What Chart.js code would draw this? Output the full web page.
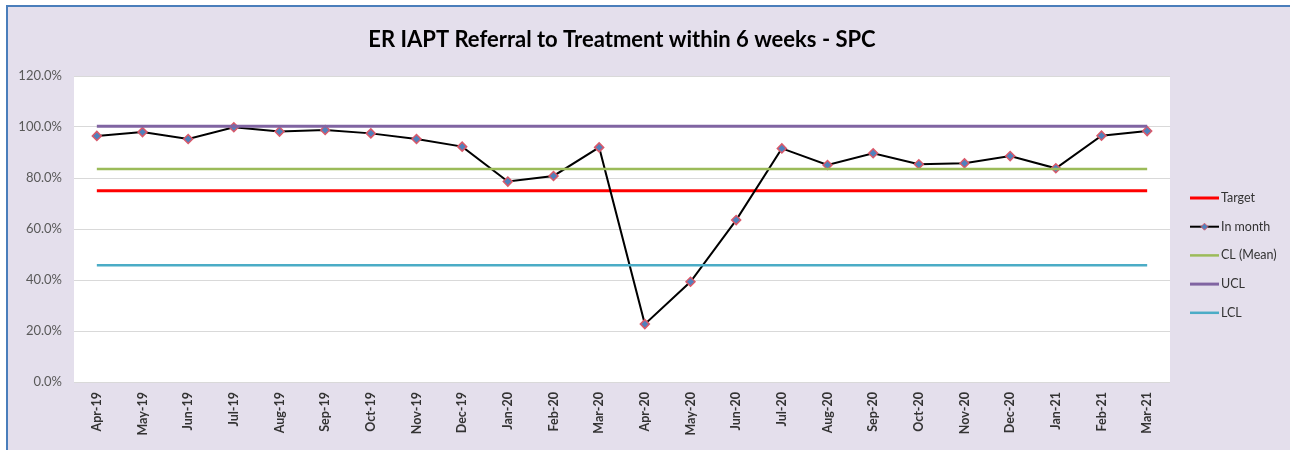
<!DOCTYPE html>
<html>
<head>
<meta charset="utf-8">
<script src="https://cdn.jsdelivr.net/npm/chart.js@4.4.0/dist/chart.umd.min.js"></script>
<style>
  html, body { margin: 0; padding: 0; background: #ffffff; width: 1290px; height: 450px; overflow: hidden; }
  #frame { position: absolute; left: 6px; top: 5px; width: 1290px; height: 450px;
           border-left: 2px solid #4A7EBB; border-top: 2px solid #4A7EBB; background: #E4DFEC; }
  #c { position: absolute; left: 0; top: 0; }
</style>
</head>
<body>
<div id="frame"><canvas id="c" width="1282" height="443"></canvas></div>
<script>
const categories = ['Apr-19','May-19','Jun-19','Jul-19','Aug-19','Sep-19','Oct-19','Nov-19','Dec-19',
  'Jan-20','Feb-20','Mar-20','Apr-20','May-20','Jun-20','Jul-20','Aug-20','Sep-20','Oct-20','Nov-20','Dec-20',
  'Jan-21','Feb-21','Mar-21'];
const inMonth = [96.5, 98.0, 95.3, 99.9, 98.2, 98.8, 97.5, 95.3, 92.3, 78.6, 80.8, 92.0,
  22.7, 39.3, 63.5, 91.6, 85.1, 89.7, 85.4, 85.8, 88.6, 83.8, 96.6, 98.4];
const targetValue = 75.0;
const clMean = 83.5;
const ucl = 100.3;
const lcl = 45.8;
const yTicks = [0, 20, 40, 60, 80, 100, 120];
const seriesNames = ['Target', 'In month', 'CL (Mean)', 'UCL', 'LCL'];

const flat = v => categories.map(() => v);

const FONT = "Lato, 'Open Sans', sans-serif";

const plotBg = {
  id: 'plotBg',
  beforeDraw(chart) {
    const a = chart.chartArea, ctx = chart.ctx;
    ctx.save();
    ctx.fillStyle = '#FFFFFF';
    ctx.fillRect(a.left, a.top, a.right - a.left, a.bottom - a.top);
    ctx.restore();
  }
};

const sideLegend = {
  id: 'sideLegend',
  afterDraw(chart) {
    const ctx = chart.ctx;
    const x0 = chart.chartArea.right + 20, x1 = x0 + 29;
    const y0 = 191, step = 28.7;
    ctx.save();
    chart.data.datasets.forEach((ds, i) => {
      const y = y0 + i * step;
      ctx.strokeStyle = ds.borderColor;
      ctx.lineWidth = ds.borderWidth;
      ctx.beginPath(); ctx.moveTo(x0, y); ctx.lineTo(x1, y); ctx.stroke();
      if (ds.pointRadius > 0) {
        const r = 3.5, cx = (x0 + x1) / 2;
        ctx.beginPath();
        ctx.moveTo(cx, y - r); ctx.lineTo(cx + r, y); ctx.lineTo(cx, y + r); ctx.lineTo(cx - r, y); ctx.closePath();
        ctx.fillStyle = ds.pointBackgroundColor; ctx.fill();
        ctx.lineWidth = 1; ctx.strokeStyle = ds.pointBorderColor; ctx.stroke();
      }
      ctx.fillStyle = '#333333';
      ctx.font = '12.5px ' + FONT;
      ctx.textBaseline = 'middle';
      ctx.textAlign = 'left';
      ctx.fillText(ds.label, x1 + 2, y);
    });
    ctx.restore();
  }
};

new Chart(document.getElementById('c'), {
  type: 'line',
  data: {
    labels: categories,
    datasets: [
      { label: seriesNames[0], data: flat(targetValue), borderColor: '#FF0000', borderWidth: 3, pointRadius: 0, order: 5 },
      { label: seriesNames[1], data: inMonth, borderColor: '#000000', borderWidth: 2, pointRadius: 4.5, pointStyle: 'rectRot',
        pointBackgroundColor: '#4F81BD', pointBorderColor: '#D9596A', pointBorderWidth: 1.5, order: 4 },
      { label: seriesNames[2], data: flat(clMean), borderColor: '#9BBB59', borderWidth: 2.5, pointRadius: 0, order: 3 },
      { label: seriesNames[3], data: flat(ucl), borderColor: '#8064A2', borderWidth: 3, pointRadius: 0, order: 2 },
      { label: seriesNames[4], data: flat(lcl), borderColor: '#4BACC6', borderWidth: 2.5, pointRadius: 0, order: 1 }
    ]
  },
  options: {
    responsive: false,
    animation: false,
    layout: { padding: { left: 0, right: 120, top: 0, bottom: 0 } },
    plugins: {
      legend: { display: false },
      tooltip: { enabled: false },
      title: {
        display: true,
        fullSize: false,
        text: 'ER IAPT Referral to Treatment within 6 weeks - SPC',
        color: '#000000',
        font: { family: FONT, size: 22, weight: 'bold' },
        padding: { top: 19.8, bottom: 22.8 }
      }
    },
    scales: {
      x: {
        offset: true,
        grid: { display: false, drawTicks: false },
        border: { display: false },
        ticks: {
          autoSkip: false, maxRotation: 90, minRotation: 90, padding: 10,
          color: '#333333', font: { family: FONT, size: 12.5, weight: 'bold' }
        },
        afterFit(s) { s.height = 68; }
      },
      y: {
        min: 0, max: 120,
        afterBuildTicks(s) { s.ticks = yTicks.map(v => ({ value: v })); },
        grid: { color: '#D9D9D9', lineWidth: 1, drawTicks: false },
        border: { display: false },
        ticks: {
          padding: 12, color: '#595959', font: { family: FONT, size: 13 },
          callback: v => v.toFixed(1) + '%'
        },
        afterFit(s) { s.width = 66; }
      }
    }
  },
  plugins: [plotBg, sideLegend]
});
</script>
</body>
</html>
